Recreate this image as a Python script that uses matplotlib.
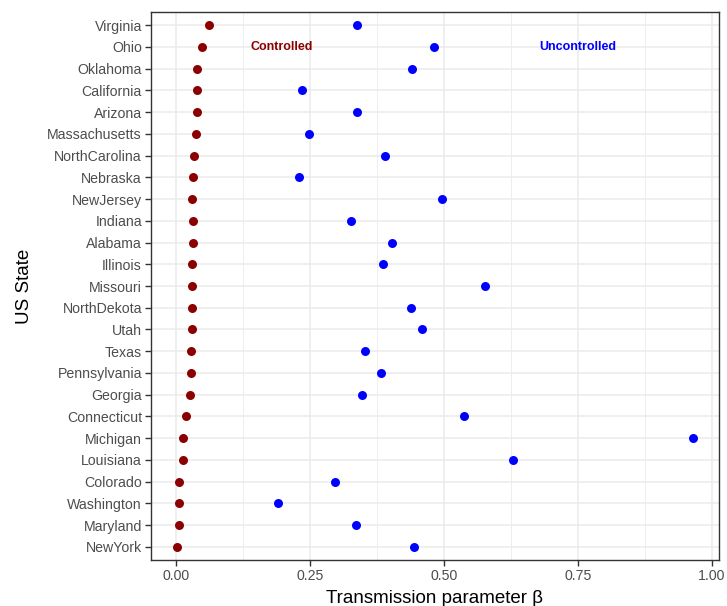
import numpy as np
import matplotlib.pyplot as plt
from matplotlib.ticker import MultipleLocator

plt.rcParams['font.family'] = ['Liberation Sans', 'DejaVu Sans']

# states listed top to bottom as in the chart
states = ['Virginia', 'Ohio', 'Oklahoma', 'California', 'Arizona', 'Massachusetts',
          'NorthCarolina', 'Nebraska', 'NewJersey', 'Indiana', 'Alabama', 'Illinois',
          'Missouri', 'NorthDekota', 'Utah', 'Texas', 'Pennsylvania', 'Georgia',
          'Connecticut', 'Michigan', 'Louisiana', 'Colorado', 'Washington',
          'Maryland', 'NewYork']

controlled = [0.062, 0.048, 0.038, 0.038, 0.038, 0.036,
              0.033, 0.031, 0.030, 0.031, 0.031, 0.029,
              0.029, 0.029, 0.029, 0.027, 0.027, 0.026,
              0.018, 0.013, 0.013, 0.006, 0.006,
              0.006, 0.001]

uncontrolled = [0.338, 0.481, 0.440, 0.234, 0.338, 0.248,
                0.390, 0.230, 0.496, 0.327, 0.403, 0.386,
                0.577, 0.438, 0.459, 0.352, 0.382, 0.347,
                0.538, 0.965, 0.629, 0.297, 0.190,
                0.336, 0.443]

xticks = [0.0, 0.25, 0.5, 0.75, 1.0]
xtick_labels = ['0.00', '0.25', '0.50', '0.75', '1.00']

fig = plt.figure(figsize=(7.27, 6.06), dpi=100)
ax = fig.add_axes([151 / 727, 1 - 560 / 606, (719 - 151) / 727, (560 - 12) / 606])

y = np.arange(len(states))[::-1]

ax.scatter(controlled, y, s=42, color='#8B0000', zorder=3, linewidths=0)
ax.scatter(uncontrolled, y, s=42, color='#0000FF', zorder=3, linewidths=0)

# annotations on the Ohio row
ohio_y = y[states.index('Ohio')]
ax.text(0.197, ohio_y, 'Controlled', color='#8B0000', fontsize=9, fontweight='bold',
        ha='center', va='center')
ax.text(0.75, ohio_y, 'Uncontrolled', color='#0000FF', fontsize=9, fontweight='bold',
        ha='center', va='center')

# ggplot-like expansion
allv = np.array(controlled + uncontrolled)
lo, hi = allv.min(), allv.max()
pad = 0.05 * (hi - lo)
ax.set_xlim(lo - pad, hi + pad)
ax.set_ylim(-0.6, len(states) - 1 + 0.6)

ax.set_xticks(xticks)
ax.set_xticklabels(xtick_labels)
ax.xaxis.set_minor_locator(MultipleLocator(0.125))
ax.set_yticks(y)
ax.set_yticklabels(states)

ax.grid(True, which='major', color='#EBEBEB', linewidth=1.1, zorder=0)
ax.grid(True, which='minor', axis='x', color='#EBEBEB', linewidth=0.6, zorder=0)
ax.set_axisbelow(True)

for sp in ax.spines.values():
    sp.set_color('#333333')
    sp.set_linewidth(1.0)

ax.tick_params(axis='both', which='major', length=4, width=1, color='#333333',
               labelcolor='#4D4D4D', labelsize=10.2, pad=2.5)
ax.tick_params(axis='x', which='minor', length=0)

ax.set_xlabel('Transmission parameter β', fontsize=13.5, color='black', labelpad=5)
ax.set_ylabel('US State', fontsize=13.5, color='black', labelpad=10)

fig.savefig('out.png', dpi=100)
